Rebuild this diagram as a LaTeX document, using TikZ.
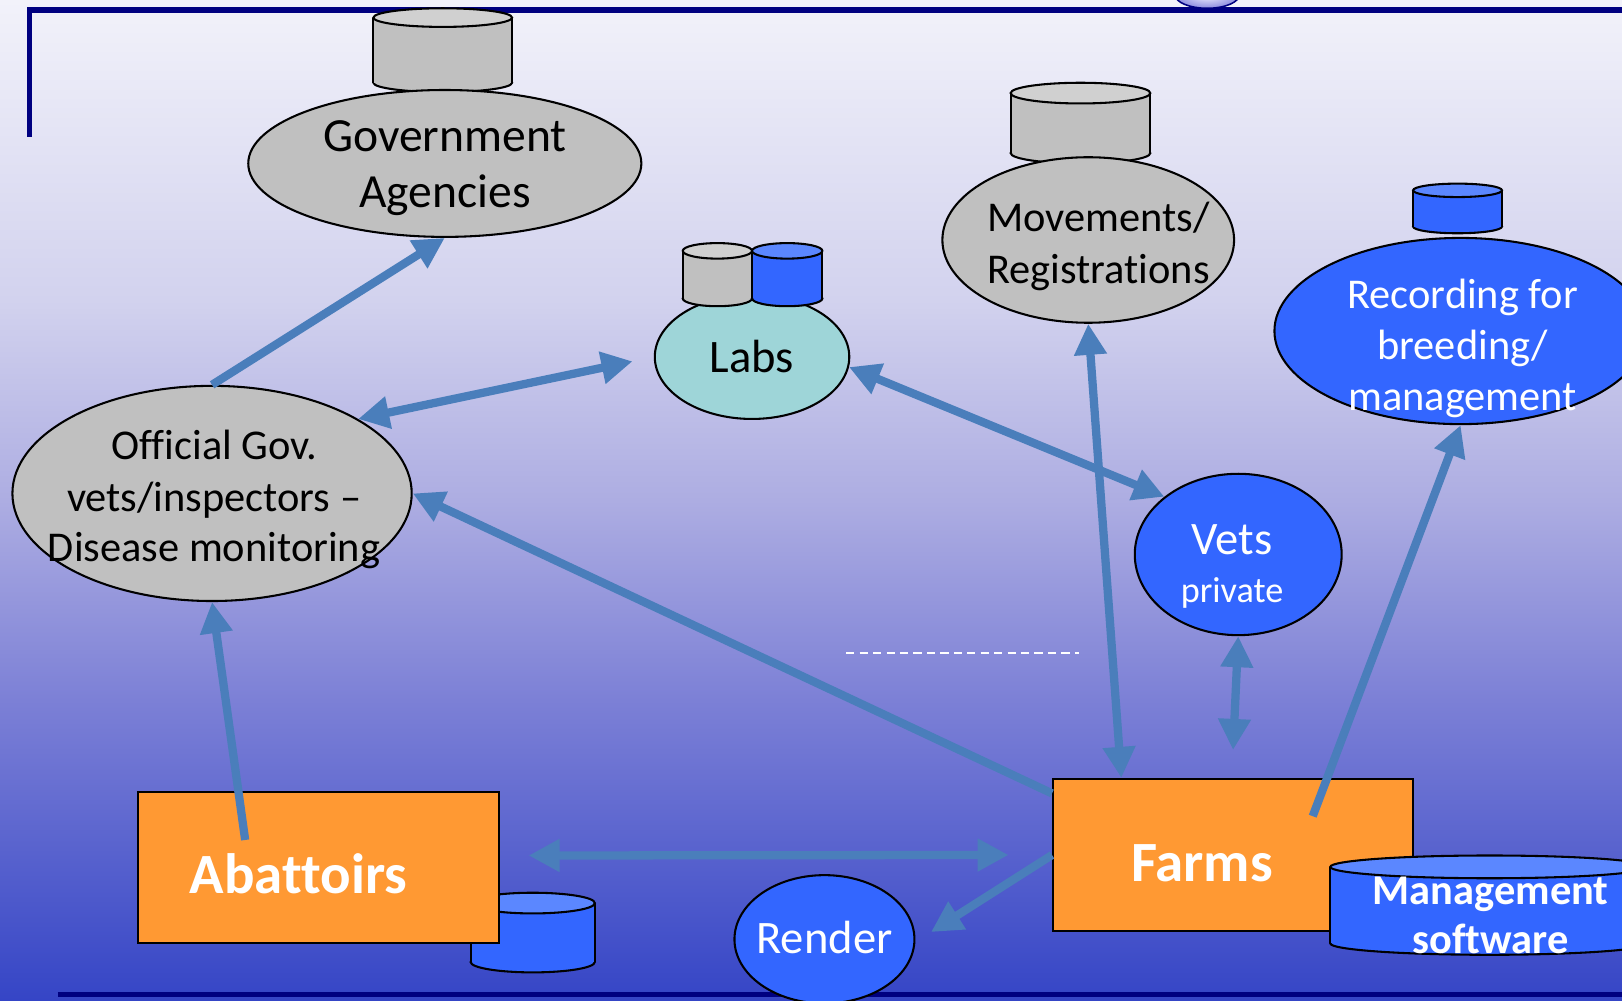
\documentclass[tikz,border=0pt]{standalone}
\usepackage{fontspec}
\setmainfont{Carlito}[Ligatures=NoCommon]
\usetikzlibrary{arrows.meta,calc,shapes.geometric}
\definecolor{navy}{HTML}{000080}
\definecolor{arrowc}{HTML}{4A7EBB}
\definecolor{grayf}{HTML}{C0C0C0}
\definecolor{graytop}{HTML}{D0D0D0}
\definecolor{bluef}{HTML}{3366FF}
\definecolor{bluetop}{HTML}{5B87FF}
\definecolor{tealf}{HTML}{9ED5D8}
\definecolor{orangef}{HTML}{FF9933}
\definecolor{bgA}{HTML}{3545C6}
\definecolor{bgB}{HTML}{7C80D6}
\definecolor{bgC}{HTML}{ADADE2}
\definecolor{bgD}{HTML}{D2D2EE}
\definecolor{bgE}{HTML}{F2F2FA}
\definecolor{ornA}{HTML}{F4F4FF}
\definecolor{ornB}{HTML}{8C8CE0}
\pgfdeclareverticalshading{bgshade}{100bp}{color(0bp)=(bgA); color(25bp)=(bgA); color(40bp)=(bgB); color(50bp)=(bgC); color(60bp)=(bgD); color(75bp)=(bgE); color(100bp)=(bgE)}
\newcommand\fz[2]{\fontsize{#1}{#2}\selectfont}
% cylinder: #1 cx, #2 rx, #3 top y, #4 bottom y, #5 ry, #6 body colour, #7 top colour
\newcommand\dbcyl[7]{%
  \filldraw[draw=black,line width=2pt,fill=#6] (#1,#4) ellipse [x radius=#2pt, y radius=#5pt];
  \fill[#6] ({#1-#2},#3) rectangle ({#1+#2},#4);
  \draw[line width=2pt] ({#1-#2},#3) -- ({#1-#2},#4) ({#1+#2},#3) -- ({#1+#2},#4);
  \filldraw[draw=black,line width=2pt,fill=#7] (#1,#3) ellipse [x radius=#2pt, y radius=#5pt];
}
\tikzset{
  ell/.style={ellipse, draw=black, line width=2pt, inner sep=0pt},
  grayell/.style={ell, fill=grayf},
  blueell/.style={ell, fill=bluef},
  tealell/.style={ell, fill=tealf},
  orbox/.style={rectangle, draw=black, line width=2pt, fill=orangef, inner sep=0pt},
  txt/.style={inner sep=0pt, anchor=base, text=black},
  wtxt/.style={txt, text=white},
  arr/.style={draw=arrowc, line width=8pt, -{Triangle[length=30pt,width=30pt]}},
  darr/.style={draw=arrowc, line width=8pt, {Triangle[length=30pt,width=30pt]}-{Triangle[length=30pt,width=30pt]}},
  navyline/.style={draw=navy, line width=5.5pt},
}
\begin{document}
\begin{tikzpicture}[x=1pt,y=-1pt]
\useasboundingbox (0,0) rectangle (1568,967);
\clip (0,0) rectangle (1568,967);
\shade[shading=bgshade] (0,0) rectangle (1568,967);

% frame lines
\draw[navyline] (28.5,132) -- (28.5,9.7) -- (1580,9.7);
\shade[inner color=ornA, outer color=ornB, draw=navy, line width=1.5pt] (1167,-5) ellipse [x radius=31pt, y radius=13pt];

% Government agencies
\dbcyl{428}{67}{17}{80}{9}{grayf}{graytop}
\node[grayell, minimum width=380pt, minimum height=142pt] (ga) at (430,158) {};
% Movements
\dbcyl{1044.5}{67.5}{90}{148}{10}{grayf}{graytop}
\node[grayell, minimum width=282pt, minimum height=160pt] (mv) at (1052,232) {};
% Recording
\dbcyl{1409}{43}{184}{219}{6.5}{bluef}{bluetop}
\node[blueell, minimum width=360pt, minimum height=180pt] (rec) at (1412,320) {};
% Labs
\node[tealell, minimum width=188pt, minimum height=120pt] (labs) at (727,345) {};
\dbcyl{693.5}{33.5}{242.5}{288.5}{7.5}{grayf}{graytop}
\dbcyl{761}{34}{242.5}{288.5}{7.5}{bluef}{bluetop}
% Official gov vets
\node[grayell, minimum width=386pt, minimum height=208pt] (og) at (205,477) {};
% Vets
\node[blueell, minimum width=200pt, minimum height=156pt] (vets) at (1197,536) {};
% Abattoirs
\dbcyl{515}{60}{873}{930}{10}{bluef}{bluetop}
\node[orbox, minimum width=349pt, minimum height=146pt] (ab) at (307.5,839) {};
% Farms
\node[orbox, minimum width=348pt, minimum height=147pt] (farms) at (1192,826.5) {};
\dbcyl{1440}{154}{838}{912}{11}{bluef}{bluetop}
% bottom line and Render
\draw[navyline] (56,961.5) -- (1580,961.5);
\node[blueell, minimum width=174pt, minimum height=124pt] (render) at (797,908) {};

% texts
\node[txt, font=\fz{46}{55}] (ga-t1) at (430,146) {Government};
\node[txt, font=\fz{46}{55}] (ga-t2) at (430,201) {Agencies};
\node[txt, font=\fz{41}{50}] (og-t1) at (207,444) {Official Gov.};
\node[txt, font=\fz{41}{50}] (og-t2) at (207,494) {vets/inspectors –};
\node[txt, font=\fz{41}{50}] (og-t3) at (207,543) {Disease monitoring};
\node[txt, font=\fz{45}{54}] (labs-t) at (727,360) {Labs};
\node[txt, font=\fz{41}{50}] (mv-t1) at (1062,224) {Movements/};
\node[txt, font=\fz{41}{50}] (mv-t2) at (1062,274) {Registrations};
\node[wtxt, font=\fz{41}{50}] (rec-t1) at (1414,298) {Recording for};
\node[wtxt, font=\fz{41}{50}] (rec-t2) at (1414,348) {breeding/};
\node[wtxt, font=\fz{41}{50}] (rec-t3) at (1414,397) {management};
\node[wtxt, font=\fz{45}{54}] (vets-t1) at (1191,536) {Vets};
\node[wtxt, font=\fz{35}{42}] (vets-t2) at (1191,582) {private};
\node[wtxt, font=\bfseries\fz{55}{66}] (farms-t) at (1162,852) {Farms};
\node[wtxt, font=\bfseries\fz{55}{66}] (ab-t) at (288.5,864) {Abattoirs};
\node[wtxt, font=\bfseries\fz{41}{48}] (mg-t1) at (1441,874) {Management};
\node[wtxt, font=\bfseries\fz{41}{48}] (mg-t2) at (1441,922) {software};
\node[wtxt, font=\fz{45}{54}] (render-t) at (797,922) {Render};

% dashed line
\coordinate (dashA) at (818,631);
\coordinate (dashB) at (1043,631);
\draw[white, line width=1.5pt, dash pattern=on 8pt off 5pt] (dashA) -- (dashB);

% connectors
\draw[arr] (og.90) -- (ga.-90);
\draw[darr, shorten >=21pt] (og.27) -- (labs.west);
\draw[darr] (labs.-6) -- (vets.142);
\draw[arr] ([yshift=-15pt]farms.north west) -- (og.east);
\draw[darr] (mv.south) -- ([xshift=67pt]farms.north west);
\draw[darr] (vets.south) -- ([yshift=27pt]farms.north);
\draw[arr] ([xshift=-98pt,yshift=-37pt]farms.north east) -- (rec.south);
\draw[arr] ([xshift=105pt,yshift=-47pt]ab.north west) -- (og.south);
\draw[darr] ([xshift=28pt,yshift=12pt]ab.east) -- ([xshift=-42pt]farms.west);
\draw[arr] (farms.west) -- ([xshift=15pt,yshift=7pt]render.east);
\end{tikzpicture}
\end{document}
